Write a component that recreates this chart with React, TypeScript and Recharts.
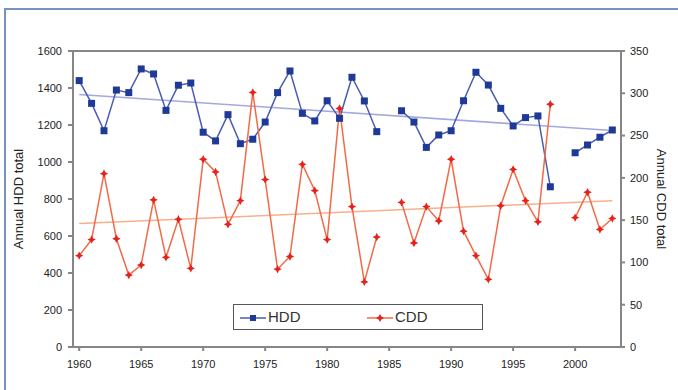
import { LineChart, Line, XAxis, YAxis, ReferenceLine } from "recharts";

const years = [
  1960, 1961, 1962, 1963, 1964, 1965, 1966, 1967, 1968, 1969, 1970, 1971, 1972, 1973, 1974,
  1975, 1976, 1977, 1978, 1979, 1980, 1981, 1982, 1983, 1984, 1985, 1986, 1987, 1988, 1989,
  1990, 1991, 1992, 1993, 1994, 1995, 1996, 1997, 1998, 1999, 2000, 2001, 2002, 2003,
];

// null = missing year (line breaks)
const hdd = [
  1440, 1317, 1169, 1389, 1375, 1503, 1476, 1279, 1415, 1427, 1161, 1114, 1256, 1099, 1123,
  1216, 1375, 1492, 1263, 1222, 1331, 1236, 1458, 1330, 1164, null, 1277, 1216, 1079, 1146,
  1169, 1331, 1485, 1416, 1290, 1195, 1240, 1249, 866, null, 1050, 1092, 1134, 1173,
];

const cdd = [
  108, 127, 205, 128, 85, 97, 174, 106, 151, 93, 222, 207, 145, 173, 301,
  198, 92, 107, 216, 185, 127, 282, 166, 77, 130, null, 171, 123, 166, 149,
  222, 137, 108, 80, 167, 210, 173, 148, 287, null, 153, 183, 139, 152,
];

// linear trend end points
const trendYears = [1960, 2003];
const hddTrend = [1365, 1170];
const cddTrend = [146, 173];

const xTicks = [1960, 1965, 1970, 1975, 1980, 1985, 1990, 1995, 2000];
const hddTicks = [0, 200, 400, 600, 800, 1000, 1200, 1400, 1600];
const cddTicks = [0, 50, 100, 150, 200, 250, 300, 350];

const data = years.map((year, i) => ({ year, HDD: hdd[i], CDD: cdd[i] }));

const AXIS = "#8a8585";
const HDD_LINE = "#4a5cb2";
const HDD_MARK = "#1f3a96";
const CDD_LINE = "#f26a48";
const CDD_MARK = "#e6221b";
const tickStyle = { fontSize: 11, fill: "#222", fontFamily: "Liberation Sans, Arial, sans-serif" };

function starPoints(cx: number, cy: number, r: number, ri: number) {
  const pts: string[] = [];
  for (let k = 0; k < 8; k++) {
    const a = (Math.PI / 4) * k - Math.PI / 2;
    const rad = k % 2 === 0 ? r : ri;
    pts.push(`${cx + rad * Math.cos(a)},${cy + rad * Math.sin(a)}`);
  }
  return pts.join(" ");
}

const squareDot = (p: any) => {
  if (p.value == null || p.cy == null) return <g key={`h-${p.index}`} />;
  return <rect key={`h-${p.index}`} x={p.cx - 3.5} y={p.cy - 3.5} width={7} height={7} fill={HDD_MARK} />;
};

const starDot = (p: any) => {
  if (p.value == null || p.cy == null) return <g key={`c-${p.index}`} />;
  return <polygon key={`c-${p.index}`} points={starPoints(p.cx, p.cy, 4.2, 2)} fill={CDD_MARK} />;
};

function LegendBox() {
  return (
    <div
      style={{
        position: "absolute",
        left: 233,
        top: 304,
        width: 248,
        height: 24,
        border: "1.5px solid #555",
        background: "#fff",
        fontFamily: "Liberation Sans, Arial, sans-serif",
        fontSize: 15,
        color: "#333",
      }}
    >
      <svg width={26} height={10} style={{ position: "absolute", left: 6, top: 8 }}>
        <line x1={0} y1={5} x2={26} y2={5} stroke={HDD_LINE} strokeWidth={1.5} />
        <rect x={10} y={2} width={6} height={6} fill={HDD_MARK} />
      </svg>
      <span style={{ position: "absolute", left: 34, top: 3 }}>HDD</span>
      <svg width={26} height={10} style={{ position: "absolute", left: 133, top: 8 }}>
        <line x1={0} y1={5} x2={26} y2={5} stroke={CDD_LINE} strokeWidth={1.5} />
        <polygon points={starPoints(13, 5, 4, 2)} fill={CDD_MARK} />
      </svg>
      <span style={{ position: "absolute", left: 161, top: 3 }}>CDD</span>
    </div>
  );
}

export default function App() {
  return (
    <div
      style={{
        position: "absolute",
        left: 0,
        top: 0,
        width: 678,
        height: 390,
        overflow: "hidden",
        background: "#fff",
      }}
    >
      <div
        style={{
          position: "absolute",
          left: 4,
          top: 8,
          width: 700,
          height: 400,
          borderTop: "2px solid #7794bc",
          borderLeft: "2px solid #7794bc",
        }}
      />
      <div style={{ position: "absolute", left: 0, top: 0 }}>
        <LineChart width={678} height={390} data={data} margin={{ top: 51, right: 0, bottom: 13, left: 0 }}>
          <XAxis
            dataKey="year"
            type="number"
            domain={[1959.5, 2003.7]}
            ticks={xTicks}
            interval={0}
            allowDataOverflow
            stroke={AXIS}
            strokeWidth={2}
            tickSize={4}
            tickMargin={9}
            height={30}
            tick={tickStyle}
          />
          <YAxis
            yAxisId="left"
            domain={[0, 1600]}
            ticks={hddTicks}
            interval={0}
            stroke={AXIS}
            strokeWidth={2}
            tickSize={5}
            tickMargin={6}
            width={73}
            tick={tickStyle}
          />
          <YAxis
            yAxisId="right"
            orientation="right"
            domain={[0, 350]}
            ticks={cddTicks}
            interval={0}
            stroke={AXIS}
            strokeWidth={2}
            tickSize={4}
            tickMargin={5}
            width={57}
            tick={{ ...tickStyle, textAnchor: "start" }}
          />
          <ReferenceLine yAxisId="left" y={1600} stroke={AXIS} strokeWidth={2} />
          <ReferenceLine
            yAxisId="left"
            segment={[
              { x: trendYears[0], y: hddTrend[0] },
              { x: trendYears[1], y: hddTrend[1] },
            ]}
            stroke="#a3a9dc"
            strokeWidth={1.5}
          />
          <ReferenceLine
            yAxisId="right"
            segment={[
              { x: trendYears[0], y: cddTrend[0] },
              { x: trendYears[1], y: cddTrend[1] },
            ]}
            stroke="#f7b08c"
            strokeWidth={1.5}
          />
          <Line
            yAxisId="left"
            dataKey="HDD"
            stroke={HDD_LINE}
            strokeWidth={1.5}
            dot={squareDot}
            activeDot={false}
            connectNulls={false}
            isAnimationActive={false}
          />
          <Line
            yAxisId="right"
            dataKey="CDD"
            stroke={CDD_LINE}
            strokeWidth={1.5}
            dot={starDot}
            activeDot={false}
            connectNulls={false}
            isAnimationActive={false}
          />
        </LineChart>
      </div>
      <div
        style={{
          position: "absolute",
          left: 18,
          top: 199,
          transform: "translate(-50%, -50%) rotate(-90deg)",
          whiteSpace: "nowrap",
          fontFamily: "Liberation Sans, Arial, sans-serif",
          fontSize: 13,
          color: "#222",
        }}
      >
        Annual HDD total
      </div>
      <div
        style={{
          position: "absolute",
          left: 661,
          top: 199,
          transform: "translate(-50%, -50%) rotate(90deg)",
          whiteSpace: "nowrap",
          fontFamily: "Liberation Sans, Arial, sans-serif",
          fontSize: 13,
          color: "#222",
        }}
      >
        Annual CDD total
      </div>
      <LegendBox />
    </div>
  );
}
